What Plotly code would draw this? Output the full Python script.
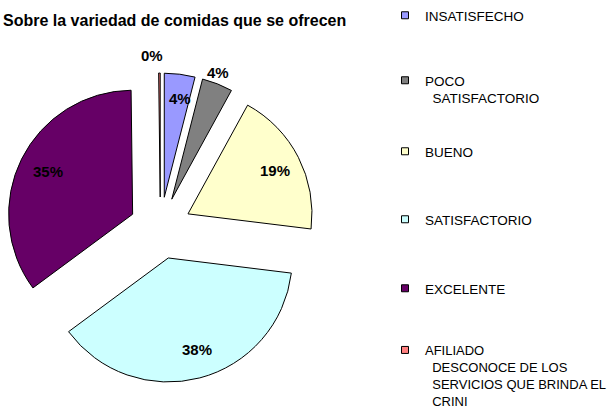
import math
import plotly.graph_objects as go

categories = ["INSATISFECHO", "POCO SATISFACTORIO", "BUENO", "SATISFACTORIO",
              "EXCELENTE", "AFILIADO DESCONOCE DE LOS SERVICIOS QUE BRINDA EL CRINI"]
legend_labels = ["INSATISFECHO",
                 "POCO<br>\u00a0\u00a0SATISFACTORIO",
                 "BUENO",
                 "SATISFACTORIO",
                 "EXCELENTE",
                 "AFILIADO<br>\u00a0\u00a0DESCONOCE DE LOS<br>\u00a0\u00a0SERVICIOS QUE BRINDA EL<br>\u00a0\u00a0CRINI"]
values = [4, 4, 19, 38, 35, 0.2]
colors = ["#9999FF", "#808080", "#FFFFCC", "#CCFFFF", "#660066", "#FF8080"]
label_radius = [0.8, 1.1, 0.76, 0.76, 0.78, 1.14]   # label distance, fraction of radius
label_xshift = [3, -4, 3, 5, 2, -7]
legend_first_line_y = [15, 81, 152, 220, 289, 351]
legend_font_size = [13.5, 13.5, 13.5, 13.5, 13.5, 13]

W, H = 613, 412
PULL = 0.25
# pie box (pixels): center and half side
CX, CY, HALF = 160.4, 228.0, 155.0

fig = go.Figure()
fig.add_trace(go.Pie(
    labels=categories, values=values, sort=False, direction="clockwise",
    rotation=0, pull=[PULL] * len(values),
    marker=dict(colors=colors, line=dict(color="black", width=1)),
    textinfo="none",
    showlegend=False, hoverinfo="label+percent",
    domain=dict(x=[(CX - HALF) / W, (CX + HALF) / W],
                y=[1 - (CY + HALF) / H, 1 - (CY - HALF) / H]),
))

# percentage labels placed along each slice's mid-angle
total = sum(values)
r = HALF / (1 + PULL)
cum = 0.0
annotations = []
for v, k, xs in zip(values, label_radius, label_xshift):
    mid = 2 * math.pi * (cum + v / 2) / total
    cum += v
    dist = PULL * r + k * r
    px = CX + dist * math.sin(mid)
    py = CY - dist * math.cos(mid)
    annotations.append(dict(
        x=px / W, y=1 - py / H, xref="paper", yref="paper",
        text=f"<b>{round(100 * v / total)}%</b>", showarrow=False, xshift=xs,
        font=dict(family="Liberation Sans", size=15, color="black"),
        xanchor="center", yanchor="middle",
    ))

layout_legends = {}
for i, (lab, col, ly, fs) in enumerate(zip(legend_labels, colors, legend_first_line_y, legend_font_size)):
    key = "legend" if i == 0 else f"legend{i+1}"
    fig.add_trace(go.Scatter(
        x=[None], y=[None], mode="markers", name=lab,
        marker=dict(symbol="square", size=7, color=col, line=dict(color="black", width=1)),
        showlegend=True, legend=key, hoverinfo="skip",
    ))
    layout_legends[key] = dict(
        xref="container", yref="container",
        x=385 / W, xanchor="left", y=1 - (ly - 16) / H, yanchor="top",
        valign="top", bgcolor="rgba(0,0,0,0)", borderwidth=0,
        font=dict(family="Liberation Sans", size=fs, color="black"),
        itemwidth=30,
    )

fig.update_layout(
    width=W, height=H,
    margin=dict(l=0, r=0, t=0, b=0, autoexpand=False),
    paper_bgcolor="white", plot_bgcolor="white",
    xaxis=dict(visible=False), yaxis=dict(visible=False),
    title=dict(text="<b>Sobre la variedad de comidas que se ofrecen</b>",
               xref="container", yref="container",
               x=3 / W, xanchor="left", y=1 - 20 / H, yanchor="middle",
               pad=dict(l=0, r=0, t=0, b=0),
               font=dict(family="Liberation Sans", size=16, color="black")),
    annotations=annotations,
    **layout_legends,
)

fig.write_html("out.html",
               config={"displayModeBar": False},
               post_script="document.body.style.margin='0';document.body.style.overflow='hidden';")
